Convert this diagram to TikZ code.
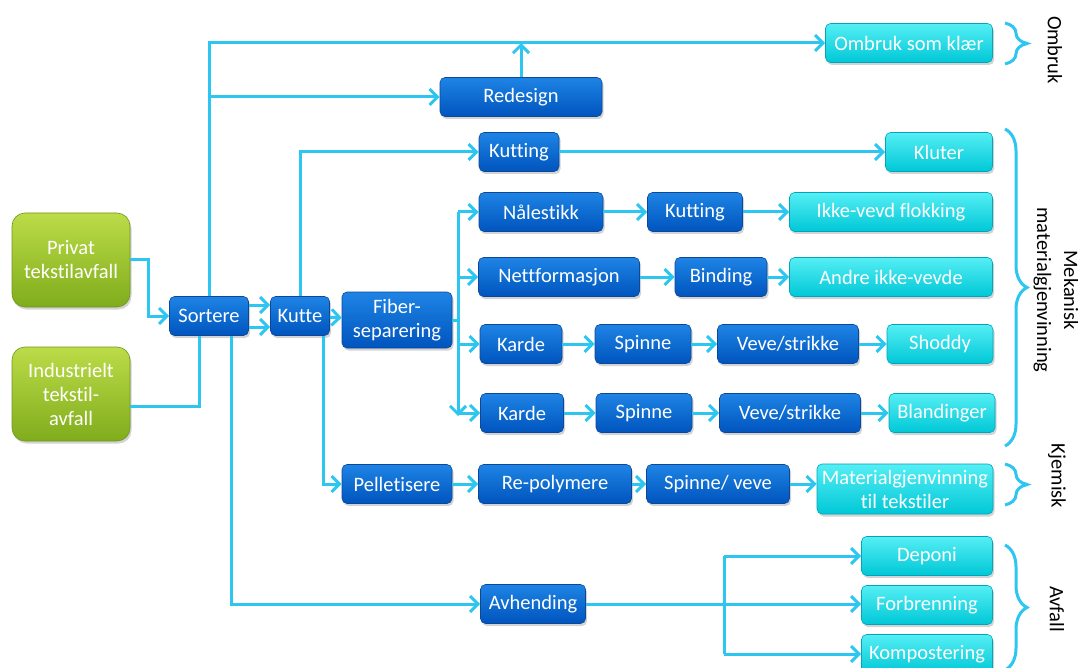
\documentclass[tikz,border=0pt]{standalone}
\usepackage{fontspec}
\setmainfont[Ligatures=NoCommon]{Carlito}
\usetikzlibrary{arrows.meta,shadows,decorations.pathreplacing}

\definecolor{flow}{RGB}{45,198,240}
\definecolor{blueTop}{RGB}{30,132,228}
\definecolor{blueBot}{RGB}{0,84,190}
\definecolor{blueEdge}{RGB}{12,72,150}
\definecolor{cyanTop}{RGB}{85,238,244}
\definecolor{cyanBot}{RGB}{0,200,215}
\definecolor{cyanEdge}{RGB}{0,165,185}
\definecolor{greenTop}{RGB}{188,220,72}
\definecolor{greenBot}{RGB}{128,172,28}
\definecolor{greenEdge}{RGB}{112,150,32}

\tikzset{
  box/.style={rounded corners=5pt, text=white, align=center,
    font=\fontsize{20.5}{24}\selectfont, inner sep=0pt, line width=0.6pt,
    drop shadow={shadow xshift=1.5pt, shadow yshift=-2.5pt, opacity=0.35}},
  sz/.style 2 args={minimum width=#1pt, minimum height=#2pt},
  proc/.style={box, draw=blueEdge, top color=blueTop, bottom color=blueBot},
  result/.style={box, draw=cyanEdge, top color=cyanTop, bottom color=cyanBot},
  source/.style={box, rounded corners=13pt, draw=greenEdge, top color=greenTop, bottom color=greenBot},
  flowline/.style={draw=flow, line width=3pt},
  arr/.style={flowline, -{Straight Barb[length=8pt,width=16pt]}},
  grp/.style={draw=flow, line width=3pt, decorate, decoration={brace, amplitude=22pt}},
  grplabel/.style={rotate=-90, font=\fontsize{20.5}{27}\selectfont, align=center}
}

\begin{document}
\begin{tikzpicture}[x=1pt, y=-1pt]
\useasboundingbox (0,0) rectangle (1078,668);
\clip (0,0) rectangle (1078,668);

% sources
\node[source, sz={118}{94}] (priv) at (71,260) {Privat\\tekstilavfall};
\node[source, sz={118}{94}] (ind)  at (71,394) {Industrielt\\tekstil-\\avfall};

% processing steps
\node[proc, sz={79}{39}]  (sort)     at (209,316) {Sortere};
\node[proc, sz={59}{39}]  (kutte)    at (300,316) {Kutte};
\node[proc, sz={110}{56}] (fiber)    at (397,320) {Fiber-\\separering};
\node[proc, sz={162}{39}] (redesign) at (521,97)  {Redesign};
\node[proc, sz={80}{39}]  (kut1)     at (519,152) {Kutting};
\node[proc, sz={124}{39}] (nal)      at (541,212) {Nålestikk};
\node[proc, sz={95}{39}]  (kut2)     at (695,212) {Kutting};
\node[proc, sz={161}{39}] (nett)     at (559,277) {Nettformasjon};
\node[proc, sz={92}{39}]  (bind)     at (721,277) {Binding};
\node[proc, sz={82}{39}]  (karde1)   at (521,344) {Karde};
\node[proc, sz={96}{39}]  (spin1)    at (643,344) {Spinne};
\node[proc, sz={141}{39}] (veve1)    at (788,344) {Veve/strikke};
\node[proc, sz={83}{39}]  (karde2)   at (522,413) {Karde};
\node[proc, sz={96}{39}]  (spin2)    at (644,413) {Spinne};
\node[proc, sz={141}{39}] (veve2)    at (790,413) {Veve/strikke};
\node[proc, sz={110}{39}] (pell)     at (397,484) {Pelletisere};
\node[proc, sz={153}{39}] (repoly)   at (555,484) {Re-polymere};
\node[proc, sz={143}{39}] (spinveve) at (718,484) {Spinne/ veve};
\node[proc, sz={105}{39}] (avh)      at (533,604) {Avhending};

% end results
\node[result, sz={167}{39}] (ombruk) at (909,43)  {Ombruk som klær};
\node[result, sz={107}{39}] (kluter) at (939,152) {Kluter};
\node[result, sz={203}{39}] (ikke)   at (891,212) {Ikke-vevd flokking};
\node[result, sz={203}{39}] (andre)  at (891,277) {Andre ikke-vevde};
\node[result, sz={106}{39}] (shoddy) at (940,344) {Shoddy};
\node[result, sz={106}{39}] (bland)  at (942,413) {Blandinger};
\node[result, sz={176}{50}] (mat)    at (905,489) {Materialgjenvinning\\til tekstiler};
\node[result, sz={131}{39}] (deponi) at (927,556) {Deponi};
\node[result, sz={131}{39}] (forb)   at (927,605) {Forbrenning};
\node[result, sz={131}{39}] (komp)   at (927,654) {Kompostering};

% sources into sorting
\draw[arr] (priv.east) -- ++(18,0) |- (sort.west);
\draw[flowline] ([yshift=-12pt]ind.east) -| ([xshift=-10pt]sort.south);

% sorting to cutting
\draw[arr] ([yshift=11pt]sort.east) -- ([yshift=11pt]kutte.west);
\draw[arr] ([yshift=-11pt]sort.east) -- ([yshift=-11pt]kutte.west);

% reuse branch
\draw[arr] (sort.north) |- (ombruk.west);
\draw[arr] (sort.north |- redesign.west) -- (redesign.west);
\draw[arr] (redesign.north) -- (redesign.north |- ombruk.west);

% rags
\draw[arr] (kutte.north) |- (kut1.west);
\draw[arr] (kut1) -- (kluter);

% fibre separation fan-out
\draw[arr] (kutte) -- (fiber);
\coordinate (split) at (458,320);
\draw[flowline] (fiber.east) -- (split);
\draw[flowline] (split |- nal.west) -- (split);
\draw[arr] (split) -- ([yshift=-3pt]split |- karde2.west);
\draw[arr] (split |- nal.west) -- (nal.west);
\draw[arr] (split |- nett.west) -- (nett.west);
\draw[arr] (split |- karde1.west) -- (karde1.west);
\draw[arr] (split |- karde2.west) -- (karde2.west);

\draw[arr] (nal) -- (kut2);
\draw[arr] (kut2) -- (ikke);
\draw[arr] (nett) -- (bind);
\draw[arr] (bind) -- (andre);
\draw[arr] (karde1) -- (spin1);
\draw[arr] (spin1) -- (veve1);
\draw[arr] (veve1) -- (shoddy);
\draw[arr] (karde2) -- (spin2);
\draw[arr] (spin2) -- (veve2);
\draw[arr] (veve2) -- (bland);

% chemical recycling
\draw[arr] ([xshift=23pt]kutte.south) |- (pell.west);
\draw[arr] (pell) -- (repoly);
\draw[arr] (repoly) -- (spinveve);
\draw[arr] (spinveve.east) -- (spinveve.east -| mat.west);

% disposal
\draw[arr] ([xshift=22pt]sort.south) |- (avh.west);
\draw[arr] (avh.east) -- (avh.east -| forb.west);
\coordinate (asplit) at (724,604);
\draw[flowline] (asplit |- deponi.west) -- (asplit |- komp.west);
\draw[arr] (asplit |- deponi.west) -- (deponi.west);
\draw[arr] (asplit |- komp.west) -- (komp.west);

% group braces
\draw[grp] (1005,23) -- (1005,64);
\draw[grp] (1005,129) -- (1005,446);
\draw[grp] (1005,464) -- (1005,505);
\draw[grp] (1005,545) -- (1005,670);

\node[grplabel] (lomb) at (1055,50)  {Ombruk};
\node[grplabel] (lmek) at (1056,290) {Mekanisk\\materialgjenvinning};
\node[grplabel] (lkje) at (1057,476) {Kjemisk};
\node[grplabel] (lavf) at (1057,609) {Avfall};
\end{tikzpicture}
\end{document}
